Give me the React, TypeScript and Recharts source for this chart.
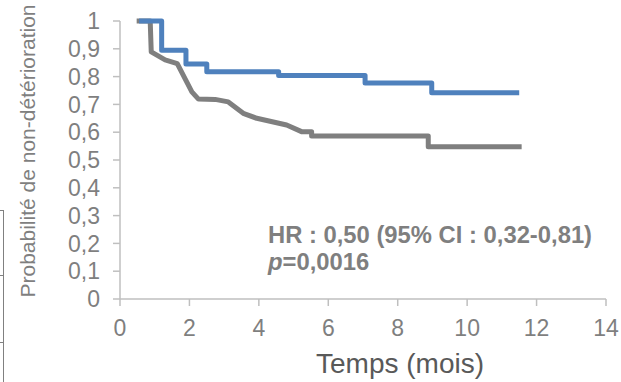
import { LineChart, Line, XAxis, YAxis } from 'recharts';

// courbe bleue (marches)
const blueTimes = [0.55, 1.2, 1.9, 2.5, 4.57, 7.06, 8.98, 11.5];
const blueValues = [1.0, 0.895, 0.845, 0.817, 0.804, 0.777, 0.742, 0.742];

// courbe grise
const grayTimes = [0.48, 0.87, 0.9, 1.3, 1.65, 2.07, 2.26, 2.74, 3.12, 3.55, 3.94, 4.8, 5.23, 5.52, 5.52, 8.88, 8.88, 11.57];
const grayValues = [1.0, 1.0, 0.889, 0.86, 0.847, 0.745, 0.719, 0.718, 0.709, 0.668, 0.65, 0.626, 0.602, 0.602, 0.586, 0.586, 0.548, 0.548];

const xTicks = [0, 2, 4, 6, 8, 10, 12, 14];
const yTicks = [0, 0.1, 0.2, 0.3, 0.4, 0.5, 0.6, 0.7, 0.8, 0.9, 1];

const blueData = blueTimes.map((t, i) => ({ t, s: blueValues[i] }));
const grayData = grayTimes.map((t, i) => ({ t, s: grayValues[i] }));

const fmt = (v: number) => String(Math.round(v * 10) / 10).replace('.', ',');

const font = 'Arial, "Liberation Sans", sans-serif';
const tickStyle = { fill: '#7f7f7f', fontSize: 23, fontFamily: font };

export default function App() {
  return (
    <div style={{ position: 'absolute', left: 0, top: 0, width: 621, height: 382, background: '#fff' }}>
      {/* bord de tableau coupé à gauche */}
      <div style={{ position: 'absolute', left: 0, top: 210, width: 3, height: 172, borderTop: '1.5px solid #808080', borderRight: '1.5px solid #808080' }} />
      <div style={{ position: 'absolute', left: 0, top: 275, width: 3, borderTop: '1.5px solid #808080' }} />
      <div style={{ position: 'absolute', left: 0, top: 342, width: 3, borderTop: '1.5px solid #808080' }} />
      <LineChart width={621} height={382} margin={{ top: 21, right: 15, left: 0, bottom: 0 }}>
        <XAxis
          dataKey="t"
          type="number"
          domain={[0, 14]}
          ticks={xTicks}
          interval={0}
          tick={tickStyle}
          tickSize={7}
          tickMargin={14}
          height={83}
          stroke="#bfbfbf"
          strokeWidth={1.5}
          allowDataOverflow
        />
        <YAxis
          type="number"
          domain={[0, 1]}
          ticks={yTicks}
          interval={0}
          tickFormatter={fmt}
          tick={tickStyle}
          tickSize={7}
          tickMargin={13}
          width={120}
          stroke="#bfbfbf"
          strokeWidth={1.5}
        />
        <Line data={grayData} dataKey="s" type="linear" stroke="#7f7f7f" strokeWidth={5} strokeLinejoin="round" dot={false} activeDot={false} isAnimationActive={false} />
        <Line data={blueData} dataKey="s" type="stepAfter" stroke="#4f81bd" strokeWidth={5} strokeLinejoin="round" dot={false} activeDot={false} isAnimationActive={false} />
        <text x={35} y={151} transform="rotate(-90, 35, 151)" textAnchor="middle" fill="#7f7f7f" fontSize={21} fontFamily={font}>
          Probabilité de non-détérioration
        </text>
        <text x={400} y={373} textAnchor="middle" fill="#595959" fontSize={28} fontFamily={font}>
          Temps (mois)
        </text>
        <text x={268} y={243} fill="#7f7f7f" fontSize={23.8} fontWeight="bold" fontFamily={font}>
          HR : 0,50 (95% CI : 0,32-0,81)
        </text>
        <text x={268} y={270} fill="#7f7f7f" fontSize={23.8} fontWeight="bold" fontFamily={font}>
          <tspan fontStyle="italic">p</tspan>=0,0016
        </text>
      </LineChart>
    </div>
  );
}
